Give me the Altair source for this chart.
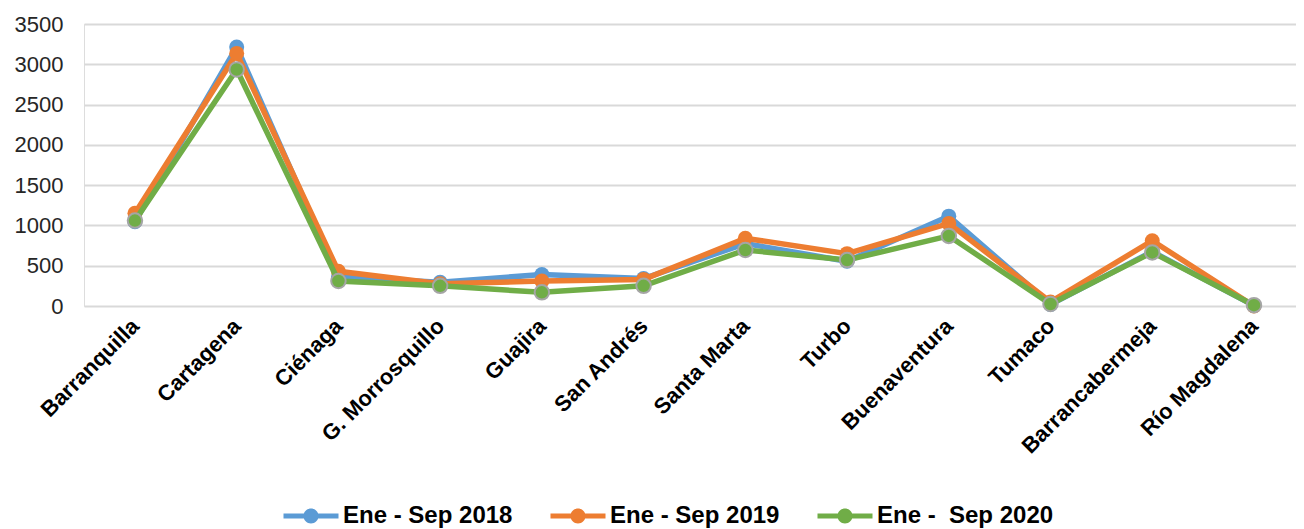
import altair as alt
import pandas as pd

ports = ["Barranquilla", "Cartagena", "Ciénaga", "G. Morrosquillo", "Guajira",
         "San Andrés", "Santa Marta", "Turbo", "Buenaventura", "Tumaco",
         "Barrancabermeja", "Río Magdalena"]
s2018 = [1045, 3215, 360, 295, 390, 340, 775, 555, 1115, 20, 675, 5]
s2019 = [1150, 3135, 430, 275, 310, 330, 840, 650, 1025, 50, 810, 0]
s2020 = [1060, 2935, 310, 250, 170, 250, 695, 570, 870, 25, 665, 10]
series_names = ["Ene - Sep 2018", "Ene - Sep 2019", "Ene - \u00a0Sep 2020"]
colors = ["#5B9BD5", "#ED7D31", "#70AD47"]
y_ticks = [0, 500, 1000, 1500, 2000, 2500, 3000, 3500]

rows = []
for name, vals in zip(series_names, [s2018, s2019, s2020]):
    for p, v in zip(ports, vals):
        rows.append({"port": p, "value": v, "series": name})
df = pd.DataFrame(rows)

FONT = "Liberation Sans"
legend_path = ("M-2.75,-0.25 L2.75,-0.25 L2.75,0.25 L-2.75,0.25 Z "
               "M-0.75,0 A0.75,0.75 0 1,1 0.75,0 A0.75,0.75 0 1,1 -0.75,0 Z")

x_enc = alt.X("port:N", sort=ports,
              scale=alt.Scale(type="point", padding=0.457, align=0.548),
              axis=alt.Axis(title=None, labelAngle=-45, labelFontSize=22,
                            labelFontWeight="bold", labelColor="black",
                            domain=False, ticks=False, grid=False,
                            labelPadding=9, labelOffset=-7, labelFont=FONT))
y_enc = alt.Y("value:Q", scale=alt.Scale(domain=[0, 3500]),
              axis=alt.Axis(values=y_ticks, format="d", title=None, domain=False,
                            ticks=False, labelFontSize=22, labelPadding=21,
                            labelFont=FONT, gridColor="#D9D9D9", gridWidth=2,
                            labelColor="#262626"))
color_enc = alt.Color("series:N",
                      scale=alt.Scale(domain=series_names, range=colors),
                      legend=alt.Legend(title=None, orient="none", legendX=215, legendY=480,
                                        direction="horizontal", symbolType=legend_path,
                                        symbolSize=400, symbolStrokeWidth=0,
                                        labelFontSize=24, labelFontWeight="bold",
                                        labelColor="black", labelFont=FONT, labelLimit=400,
                                        labelOffset=20, columnPadding=37, padding=0))

layers = []
for i, name in enumerate(series_names):
    base = alt.Chart(df).transform_filter(alt.datum.series == name)
    line = base.mark_line(strokeWidth=5.5).encode(x=x_enc, y=y_enc, color=color_enc)
    if i == 2:
        pt = base.mark_circle(size=210, opacity=1, stroke="#A5A5A5", strokeWidth=2)
    else:
        pt = base.mark_circle(size=225, opacity=1)
    pt = pt.encode(x=x_enc, y=y_enc, color=color_enc)
    layers += [line, pt]

chart = alt.layer(*layers).properties(
    width=1212, height=282,
    autosize=alt.AutoSizeParams(type="none"),
    padding={"left": 76, "top": 16, "right": 0, "bottom": 223},
).configure_view(stroke="transparent", strokeWidth=0, strokeOpacity=0
).configure_axis(domain=False, ticks=False
).configure_axisX(grid=False, domain=False, ticks=False
).configure_axisY(domain=False, ticks=False, domainOpacity=0
).configure(font=FONT)

chart.save("out.html", embed_options={"renderer": "svg", "actions": False})
